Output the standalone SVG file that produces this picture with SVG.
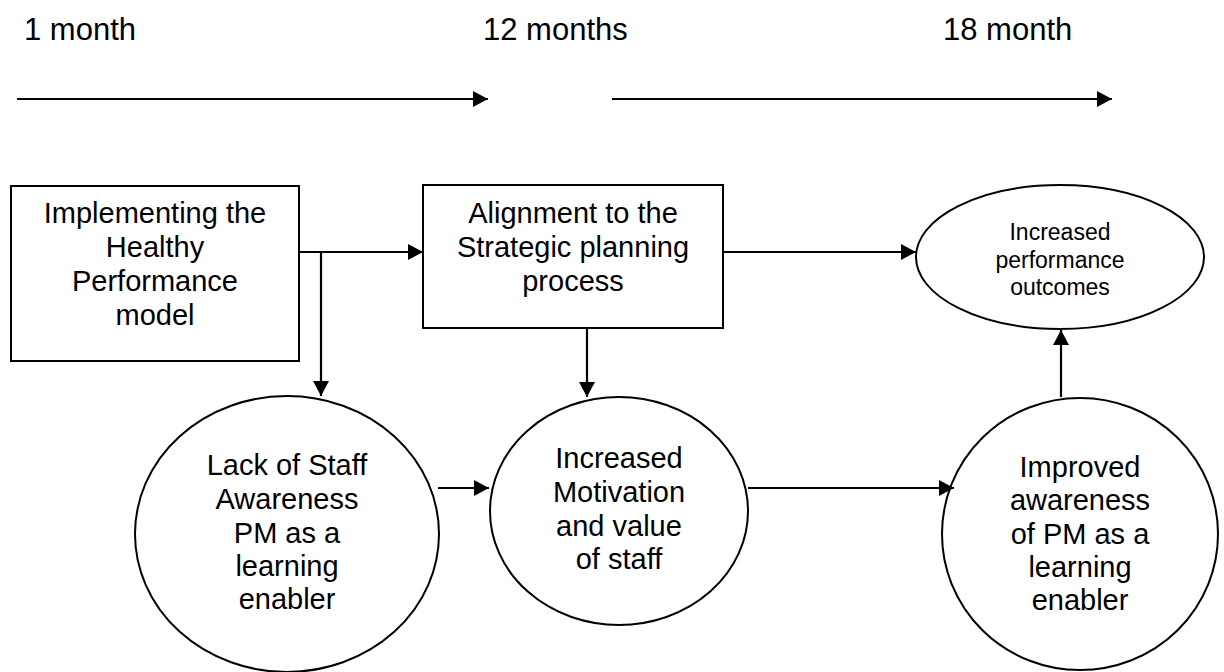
<svg xmlns="http://www.w3.org/2000/svg" width="1224" height="672" viewBox="0 0 1224 672">
  <style>
    text { font-family: "Liberation Sans", Arial, sans-serif; fill: #000; text-anchor: middle; }
    .time { font-size: 31px; text-anchor: start; }
    .lbl { font-size: 29px; }
    .small { font-size: 23px; }
    .shape { fill: #fff; stroke: #000; stroke-width: 2; }
    .conn { fill: none; stroke: #000; stroke-width: 2.2; }
  </style>
  <defs>
    <marker id="arrow" markerUnits="userSpaceOnUse" markerWidth="16" markerHeight="16" refX="15" refY="8" orient="auto">
      <path d="M0,0 L15,8 L0,16 Z" fill="#000"/>
    </marker>
  </defs>

  <rect width="1224" height="672" fill="#fff"/>

  <!-- timeline -->
  <g id="timeline">
    <text class="time" x="24" y="40">1 month</text>
    <text class="time" x="483" y="40">12 months</text>
    <text class="time" x="943" y="40">18 month</text>
  </g>

  <!-- nodes -->
  <g id="node-implementing">
    <rect class="shape" x="11" y="186" width="288" height="175"/>
    <text class="lbl" x="155" y="223">Implementing the</text>
    <text class="lbl" x="155" y="257">Healthy</text>
    <text class="lbl" x="155" y="291">Performance</text>
    <text class="lbl" x="155" y="325">model</text>
  </g>

  <g id="node-alignment">
    <rect class="shape" x="423" y="185" width="300" height="143"/>
    <text class="lbl" x="573" y="223">Alignment to the</text>
    <text class="lbl" x="573" y="257">Strategic planning</text>
    <text class="lbl" x="573" y="291">process</text>
  </g>

  <g id="node-outcomes">
    <ellipse class="shape" cx="1060" cy="257" rx="144" ry="72"/>
    <text class="small" x="1060" y="240">Increased</text>
    <text class="small" x="1060" y="268">performance</text>
    <text class="small" x="1060" y="295">outcomes</text>
  </g>

  <g id="node-lack-awareness">
    <ellipse class="shape" cx="287" cy="534" rx="152" ry="138"/>
    <text class="lbl" x="287" y="475">Lack of Staff</text>
    <text class="lbl" x="287" y="509">Awareness</text>
    <text class="lbl" x="287" y="543">PM as a</text>
    <text class="lbl" x="287" y="576">learning</text>
    <text class="lbl" x="287" y="609">enabler</text>
  </g>

  <g id="node-motivation">
    <ellipse class="shape" cx="619" cy="511" rx="129" ry="114"/>
    <text class="lbl" x="619" y="468">Increased</text>
    <text class="lbl" x="619" y="502">Motivation</text>
    <text class="lbl" x="619" y="536">and value</text>
    <text class="lbl" x="619" y="569">of staff</text>
  </g>

  <g id="node-improved-awareness">
    <ellipse class="shape" cx="1080" cy="534" rx="138" ry="136"/>
    <text class="lbl" x="1080" y="477">Improved</text>
    <text class="lbl" x="1080" y="510">awareness</text>
    <text class="lbl" x="1080" y="544">of PM as a</text>
    <text class="lbl" x="1080" y="577">learning</text>
    <text class="lbl" x="1080" y="610">enabler</text>
  </g>

  <!-- connectors -->
  <g id="connectors">
    <line class="conn" x1="17" y1="99" x2="488" y2="99" marker-end="url(#arrow)"/>
    <line class="conn" x1="612" y1="99" x2="1112" y2="99" marker-end="url(#arrow)"/>
    <line class="conn" x1="299" y1="252" x2="423" y2="252" marker-end="url(#arrow)"/>
    <line class="conn" x1="321" y1="252" x2="321" y2="396" marker-end="url(#arrow)"/>
    <line class="conn" x1="723" y1="252" x2="916" y2="252" marker-end="url(#arrow)"/>
    <line class="conn" x1="587" y1="328" x2="587" y2="397" marker-end="url(#arrow)"/>
    <line class="conn" x1="438" y1="488" x2="489" y2="488" marker-end="url(#arrow)"/>
    <line class="conn" x1="748" y1="488" x2="954" y2="488" marker-end="url(#arrow)"/>
    <line class="conn" x1="1061" y1="397" x2="1061" y2="330" marker-end="url(#arrow)"/>
  </g>
</svg>
